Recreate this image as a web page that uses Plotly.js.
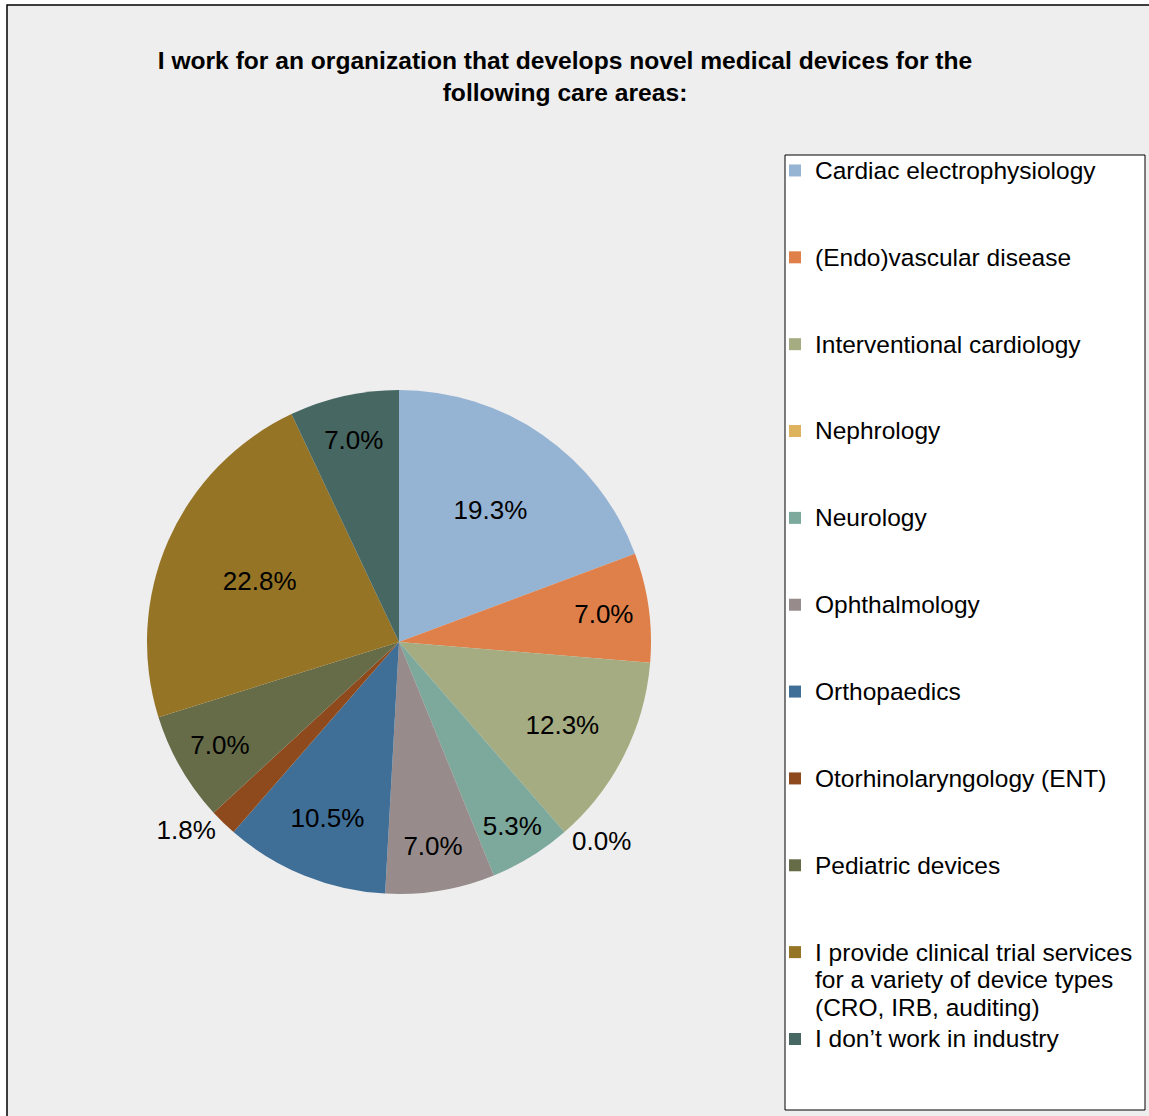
<!DOCTYPE html>
<html>
<head>
<meta charset="utf-8">
<script src="https://cdn.plot.ly/plotly-3.0.1.min.js"></script>
<style>html,body{margin:0;padding:0;background:#fff;}#chart{width:1149px;height:1116px;}</style>
</head>
<body>
<div id="chart"></div>
<script>
const titleText = "I work for an organization that develops novel medical devices for the<br>following care areas:";
const categories = [
  "Cardiac electrophysiology",
  "(Endo)vascular disease",
  "Interventional cardiology",
  "Nephrology",
  "Neurology",
  "Ophthalmology",
  "Orthopaedics",
  "Otorhinolaryngology (ENT)",
  "Pediatric devices",
  "I provide clinical trial services<br>for a variety of device types<br>(CRO, IRB, auditing)",
  "I don’t work in industry"
];
const counts = [11, 4, 7, 0, 3, 4, 6, 1, 4, 13, 4];
const colors = ["#95B3D3", "#DF804A", "#A5AC81", "#DEB35E", "#7DA89C", "#978C8B", "#3F6E97", "#8E4A1C", "#666C48", "#967425", "#476762"];
const labelPositions = ["inside", "inside", "inside", "outside", "inside", "inside", "inside", "outside", "inside", "inside", "inside"];

// legend entries: larger glyphs inside each line, each entry padded to three lines (except the last)
const legendTextSize = 24.5;
const legendLabels = categories.map((c, i) => {
  const parts = c.split("<br>").map(p => '<span style="font-size:' + legendTextSize + 'px">' + p + '</span>');
  if (i !== categories.length - 1) {
    while (parts.length < 3) parts.push(" ");
  }
  return parts.join("<br>");
});

const W = 1149, H = 1116;
const cx = 399, cy = 642, r = 252;

const trace = {
  type: "pie",
  labels: legendLabels,
  values: counts,
  sort: false,
  direction: "clockwise",
  rotation: 0,
  marker: {colors: colors, line: {width: 0}},
  texttemplate: "%{percent:.1%}",
  textposition: labelPositions,
  insidetextorientation: "horizontal",
  textfont: {family: "Liberation Sans, Arial, sans-serif", size: 26, color: "#000"},
  insidetextfont: {family: "Liberation Sans, Arial, sans-serif", size: 26, color: "#000"},
  outsidetextfont: {family: "Liberation Sans, Arial, sans-serif", size: 26, color: "#000"},
  domain: {x: [(cx - r) / W, (cx + r) / W], y: [(H - cy - r) / H, (H - cy + r) / H]},
  hoverinfo: "percent",
  showlegend: true
};

const layout = {
  width: W, height: H,
  margin: {l: 0, r: 0, t: 0, b: 0},
  paper_bgcolor: "#ffffff",
  title: {
    text: titleText,
    x: 565 / W, xanchor: "center",
    y: 1 - 69 / H, yanchor: "middle",
    font: {family: "Liberation Sans, Arial, sans-serif", size: 24.6, color: "#000", weight: "bold"}
  },
  shapes: [
    {
      type: "rect", xref: "paper", yref: "paper", layer: "below",
      x0: 7 / W, x1: 1.02, y0: -0.02, y1: 1 - 5 / H,
      fillcolor: "#eeeeee", line: {color: "#000", width: 1.5}
    },
    {
      type: "rect", xref: "paper", yref: "paper", layer: "below",
      x0: 785 / W, x1: 1145 / W, y0: 1 - 1110 / H, y1: 1 - 155 / H,
      fillcolor: "#ffffff", line: {color: "#000", width: 1}
    }
  ],
  legend: {
    x: 775 / W, xanchor: "left",
    y: 1 - 150 / H, yanchor: "top",
    bgcolor: "rgba(0,0,0,0)", borderwidth: 0,
    font: {family: "Liberation Sans, Arial, sans-serif", size: 21.5, color: "#000"},
    valign: "top",
    itemwidth: 30
  },
  showlegend: true
};

Plotly.newPlot("chart", [trace], layout, {displayModeBar: false, staticPlot: true});
</script>
</body>
</html>
